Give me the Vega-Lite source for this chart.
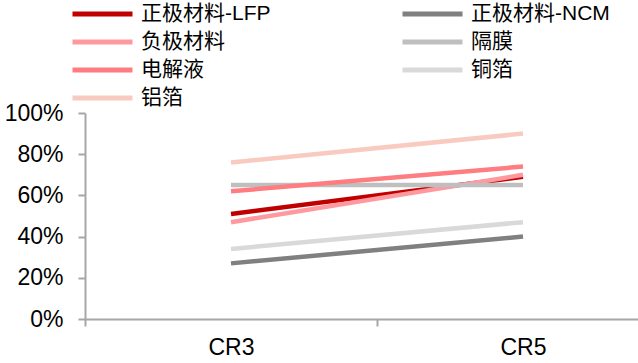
{
  "$schema": "https://vega.github.io/schema/vega-lite/v6.json",
  "autosize": "none",
  "width": 584,
  "height": 206,
  "padding": {"left": 85, "top": 113, "right": 0, "bottom": 44},
  "background": "white",
  "config": {
    "view": {"stroke": null},
    "font": "Liberation Sans, Arial, Noto Sans CJK SC"
  },
  "data": {
    "values": [
      {"series": "正极材料-LFP", "cr": "CR3", "v": 0.51},
      {"series": "正极材料-LFP", "cr": "CR5", "v": 0.69},
      {"series": "正极材料-NCM", "cr": "CR3", "v": 0.27},
      {"series": "正极材料-NCM", "cr": "CR5", "v": 0.40},
      {"series": "负极材料", "cr": "CR3", "v": 0.47},
      {"series": "负极材料", "cr": "CR5", "v": 0.70},
      {"series": "隔膜", "cr": "CR3", "v": 0.65},
      {"series": "隔膜", "cr": "CR5", "v": 0.65},
      {"series": "电解液", "cr": "CR3", "v": 0.62},
      {"series": "电解液", "cr": "CR5", "v": 0.74},
      {"series": "铜箔", "cr": "CR3", "v": 0.34},
      {"series": "铜箔", "cr": "CR5", "v": 0.47},
      {"series": "铝箔", "cr": "CR3", "v": 0.76},
      {"series": "铝箔", "cr": "CR5", "v": 0.90}
    ]
  },
  "mark": {"type": "line", "strokeWidth": 4.5, "strokeCap": "butt"},
  "encoding": {
    "x": {
      "field": "cr", "type": "nominal", "title": null,
      "scale": {"paddingInner": 0, "paddingOuter": 0},
      "axis": {
        "labelAngle": 0, "labelFontSize": 23, "labelColor": "#000000", "labelPadding": 10,
        "domainColor": "#A6A6A6", "domainWidth": 2, "tickColor": "#A6A6A6", "tickWidth": 2,
        "tickSize": 7, "tickBand": "extent"
      }
    },
    "y": {
      "field": "v", "type": "quantitative", "title": null,
      "scale": {"domain": [0, 1]},
      "axis": {
        "format": ".0%", "values": [0, 0.2, 0.4, 0.6, 0.8, 1], "grid": false,
        "labelFontSize": 23, "labelColor": "#000000", "labelPadding": 15,
        "domainColor": "#A6A6A6", "domainWidth": 2, "tickColor": "#A6A6A6", "tickWidth": 2, "tickSize": 7
      }
    },
    "color": {
      "field": "series", "type": "nominal",
      "scale": {
        "domain": ["正极材料-LFP", "负极材料", "电解液", "铝箔", "正极材料-NCM", "隔膜", "铜箔"],
        "range": ["#C00000", "#FF99A0", "#FF7C80", "#F9CBC0", "#808080", "#BFBFBF", "#D9D9D9"]
      },
      "legend": {
        "title": null, "orient": "none", "legendX": -15, "legendY": -113,
        "columns": 2, "columnPadding": 129, "rowPadding": 0, "clipHeight": 28,
        "symbolType": "stroke", "symbolSize": 3600, "symbolStrokeWidth": 5,
        "labelFontSize": 21, "labelColor": "#000000", "labelOffset": 6, "labelLimit": 300,
        "padding": 0
      }
    }
  }
}
